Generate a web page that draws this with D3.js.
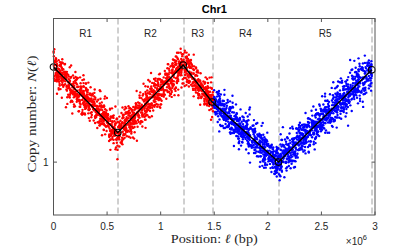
<!DOCTYPE html>
<html>
<head>
<meta charset="utf-8">
<script src="https://cdn.jsdelivr.net/npm/d3@7"></script>
<style>
  html, body { margin: 0; padding: 0; background: #fff; }
  svg { display: block; }
  .tick-label { font-family: 'Liberation Sans', Arial, sans-serif; font-size: 10px; fill: #262626; }
</style>
</head>
<body>
<div id="chart"></div>
<script>
// breakpoints of the fitted copy-number profile (position in bp, copy number)
const breakPos = [0, 0.6e6, 1.21e6, 1.48e6, 2.1e6, 2.97e6];
const breakCN = [2.0, 1.24, 2.03, 1.55, 1.0, 1.96];

// region boundaries (dashed) and names
const regionEdges = [0, 0.6e6, 1.21e6, 1.48e6, 2.1e6, 2.97e6];
const regionNames = ['R1', 'R2', 'R3', 'R4', 'R5'];

// colour split between the two halves of the reads
const colorSplit = 1.49e6;
const readColors = ['#ff0000', '#0000ff'];

// axis ticks
const xTickValues = [0, 0.5e6, 1e6, 1.5e6, 2e6, 2.5e6, 3e6];
const xTickLabels = ['0', '0.5', '1', '1.5', '2', '2.5', '3'];
const yTickValues = [1];
const yTickLabels = ['1'];

// read cloud: count and spread (log2 units)
const readCount = 3000;
const readSpread = 0.095;

const width = 415, height = 249;
const margin = {top: 18.5, right: 40, bottom: 34, left: 53.5};
const w = width - margin.left - margin.right;
const h = height - margin.top - margin.bottom;

const svg = d3.select('#chart').append('svg')
  .attr('width', width).attr('height', height);

const g = svg.append('g')
  .attr('transform', 'translate(' + margin.left + ',' + margin.top + ')');

const x = d3.scaleLinear().domain([0, 3e6]).range([0, w]);
const y = d3.scaleLog().domain([0.68, 2.85]).range([h, 0]);

// copy number profile in log space between breakpoints
const profile = (pos) => {
  let i = d3.bisectRight(breakPos, pos) - 1;
  i = Math.max(0, Math.min(breakPos.length - 2, i));
  const t = (pos - breakPos[i]) / (breakPos[i + 1] - breakPos[i]);
  const a = Math.log2(breakCN[i]), b = Math.log2(breakCN[i + 1]);
  return a + (b - a) * t;
}

// seeded noise so the cloud is the same each render
let seed = 12345;
const rand = () => {
  seed |= 0; seed = seed + 0x6D2B79F5 | 0;
  let t = Math.imul(seed ^ seed >>> 15, 1 | seed);
  t = t + Math.imul(t ^ t >>> 7, 61 | t) ^ t;
  return ((t ^ t >>> 14) >>> 0) / 4294967296;
}
const gauss = () => {
  const u = rand() || 1e-9, v = rand();
  return Math.sqrt(-2 * Math.log(u)) * Math.cos(2 * Math.PI * v);
}

const reads = d3.range(readCount).map(() => {
  const pos = rand() * breakPos[breakPos.length - 1];
  return {pos: pos, cn: Math.pow(2, profile(pos) + gauss() * readSpread)};
});

// dashed region boundaries
g.append('g').selectAll('line')
  .data(regionEdges.slice(1))
  .join('line')
  .attr('x1', (d) => Math.round(x(d)) + 0.5)
  .attr('x2', (d) => Math.round(x(d)) + 0.5)
  .attr('y1', 0).attr('y2', h)
  .attr('stroke', '#a0a0a0')
  .attr('stroke-width', 1)
  .attr('stroke-dasharray', '6,3');

// region labels
g.append('g').selectAll('text')
  .data(regionNames)
  .join('text')
  .attr('class', 'tick-label')
  .attr('x', (d, i) => x((regionEdges[i] + regionEdges[i + 1]) / 2))
  .attr('y', 18.5)
  .attr('text-anchor', 'middle')
  .text((d) => d);

// reads
g.append('g').selectAll('circle')
  .data(reads)
  .join('circle')
  .attr('cx', (d) => x(d.pos))
  .attr('cy', (d) => y(d.cn))
  .attr('r', 1.2)
  .attr('fill', (d) => d.pos < colorSplit ? readColors[0] : readColors[1]);

// fitted profile
const profileData = breakPos.map((p, i) => ({pos: p, cn: breakCN[i]}));
g.append('path')
  .datum(profileData)
  .attr('fill', 'none')
  .attr('stroke', '#000')
  .attr('stroke-width', 1.4)
  .attr('d', d3.line().x((d) => x(d.pos)).y((d) => y(d.cn)));

g.append('g').selectAll('circle')
  .data(profileData)
  .join('circle')
  .attr('cx', (d) => x(d.pos))
  .attr('cy', (d) => y(d.cn))
  .attr('r', 3.3)
  .attr('fill', 'none')
  .attr('stroke', '#000')
  .attr('stroke-width', 1.1);

// axes box
const axisColor = '#555';
g.append('rect')
  .attr('x', 0).attr('y', 0)
  .attr('width', w).attr('height', h)
  .attr('fill', 'none')
  .attr('stroke', axisColor)
  .attr('stroke-width', 1);

const tickLen = 3.5;
const axes = g.append('g').attr('stroke', axisColor).attr('stroke-width', 1);
xTickValues.forEach((v) => {
  axes.append('line').attr('x1', x(v)).attr('x2', x(v)).attr('y1', h).attr('y2', h - tickLen);
  axes.append('line').attr('x1', x(v)).attr('x2', x(v)).attr('y1', 0).attr('y2', tickLen);
});
yTickValues.forEach((v) => {
  axes.append('line').attr('x1', 0).attr('x2', tickLen).attr('y1', y(v)).attr('y2', y(v));
  axes.append('line').attr('x1', w).attr('x2', w - tickLen).attr('y1', y(v)).attr('y2', y(v));
});

g.append('g').selectAll('text')
  .data(xTickValues)
  .join('text')
  .attr('class', 'tick-label')
  .attr('x', (d) => x(d))
  .attr('y', h + 14.5)
  .attr('text-anchor', 'middle')
  .text((d, i) => xTickLabels[i]);

g.append('g').selectAll('text')
  .data(yTickValues)
  .join('text')
  .attr('class', 'tick-label')
  .attr('x', -5)
  .attr('y', (d) => y(d) + 3.5)
  .attr('text-anchor', 'end')
  .text((d, i) => yTickLabels[i]);

// exponent
const expo = g.append('text')
  .attr('class', 'tick-label')
  .attr('x', w - 8)
  .attr('y', h + 30)
  .attr('text-anchor', 'end');
expo.append('tspan').text('\u00d710');
expo.append('tspan').attr('dy', -5).attr('font-size', '7.5px').text('6');

// title
svg.append('text')
  .attr('x', margin.left + w / 2)
  .attr('y', 13)
  .attr('text-anchor', 'middle')
  .attr('font-family', "'Liberation Sans', Arial, sans-serif")
  .attr('font-size', '11px')
  .attr('font-weight', 'bold')
  .attr('fill', '#000')
  .text('Chr1');

// axis labels (serif, like LaTeX)
const xLab = svg.append('text')
  .attr('x', margin.left + w / 2)
  .attr('y', 243)
  .attr('text-anchor', 'middle')
  .attr('font-family', "'Liberation Serif', 'DejaVu Serif', serif")
  .attr('font-size', '12.5px')
  .attr('fill', '#262626')
  .attr('textLength', 87)
  .attr('lengthAdjust', 'spacingAndGlyphs');
xLab.append('tspan').text('Position: ');
xLab.append('tspan').attr('font-style', 'italic').text('\u2113');
xLab.append('tspan').text(' (bp)');

const yLab = svg.append('text')
  .attr('transform', 'translate(36,' + 114 + ') rotate(-90)')
  .attr('text-anchor', 'middle')
  .attr('font-family', "'Liberation Serif', 'DejaVu Serif', serif")
  .attr('font-size', '12.5px')
  .attr('fill', '#262626')
  .attr('textLength', 117)
  .attr('lengthAdjust', 'spacingAndGlyphs');
yLab.append('tspan').text('Copy number: ');
yLab.append('tspan').attr('font-style', 'italic').text('N');
yLab.append('tspan').text('(');
yLab.append('tspan').attr('font-style', 'italic').text('\u2113');
yLab.append('tspan').text(')');
</script>
</body>
</html>
